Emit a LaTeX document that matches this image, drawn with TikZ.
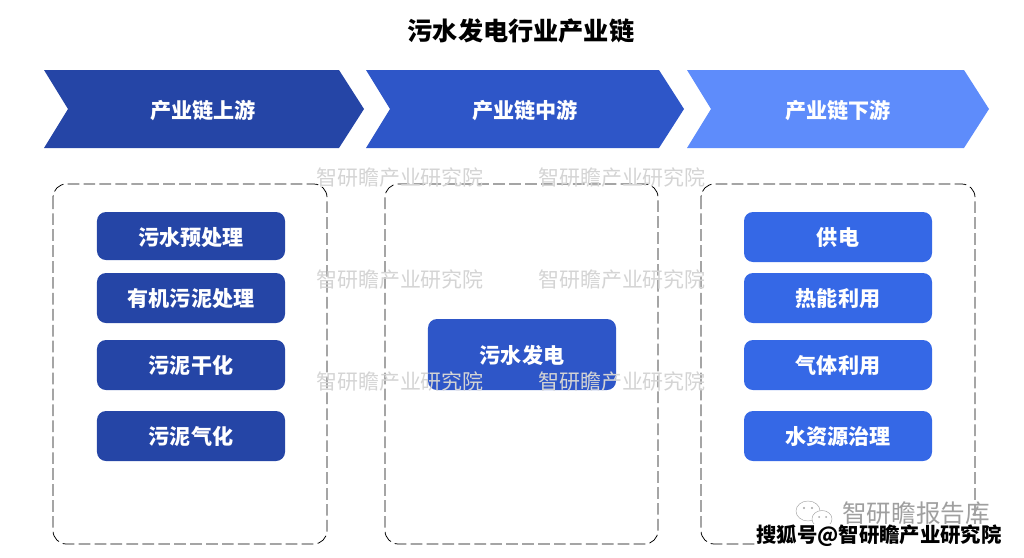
\documentclass[tikz,border=0pt]{standalone}
\usepackage{fontspec}
\setmainfont{Noto Sans CJK SC}
\definecolor{upblue}{HTML}{2545A6}
\definecolor{midblue}{HTML}{2E56C8}
\definecolor{downblue}{HTML}{5E8CFB}
\definecolor{rightblue}{HTML}{3568E6}
\definecolor{markgray}{HTML}{D4D4D4}
\tikzset{
  maintext/.style={font=\bfseries\fontsize{21.5}{21.5}\selectfont},
  head/.style={text=white,font=\bfseries\fontsize{18}{18}\selectfont},
  stepbox/.style={rounded corners=0.27cm,minimum width=5.64cm,minimum height=1.5cm,inner sep=0pt,
    text height=17pt,text depth=2pt,text=white,font=\bfseries\fontsize{18}{18}\selectfont},
  frame/.style={draw=black,line width=0.65pt,dash pattern=on 10pt off 3.6pt,rounded corners=0.4cm},
  watermark/.style={text=markgray,font=\fontsize{17.9}{17.9}\selectfont},
}
\begin{document}
\begin{tikzpicture}[x=0.03cm,y=-0.03cm]
\useasboundingbox (0,0) rectangle (1024,558);

\node[maintext] (maintitle) at (521,31) {污水发电行业产业链};

% chevrons
\foreach \x/\w/\c in {44/295/upblue,366/293/midblue,687/277/downblue}{
  \fill[\c] (\x,70) -- ++(\w,0) -- ++(25,39) -- ++(-25,39) -- ++(-\w,0) -- ++(24,-39) -- cycle;
}
\node[head] (uphead) at (203,111) {产业链上游};
\node[head] (midhead) at (525,111) {产业链中游};
\node[head] (downhead) at (838,111) {产业链下游};

% dashed frames
\draw[frame] (53,184) rectangle (327,544);
\draw[frame] (385,184) rectangle (658,544);
\draw[frame] (701,184) rectangle (975,544);

% upstream
\node[stepbox,fill=upblue,minimum height=1.44cm,text height=19pt] (pre) at (191,236) {污水预处理};
\node[stepbox,fill=upblue] (sludge) at (191,298) {有机污泥处理};
\node[stepbox,fill=upblue] (dry) at (191,365) {污泥干化};
\node[stepbox,fill=upblue] (gas) at (191,436) {污泥气化};

% midstream
\node[stepbox,fill=midblue,minimum height=2.13cm] (power) at (522,354.5) {污水发电};

% downstream
\node[stepbox,fill=rightblue] (supply) at (838,237) {供电};
\node[stepbox,fill=rightblue] (heat) at (838,298) {热能利用};
\node[stepbox,fill=rightblue] (biogas) at (838,365) {气体利用};
\node[stepbox,fill=rightblue] (water) at (838,436) {水资源治理};

% watermarks
\foreach \y/\n in {178/a,280/b,382/c}{
  \node[watermark] (mark1\n) at (400,\y) {智研瞻产业研究院};
  \node[watermark] (mark2\n) at (622,\y) {智研瞻产业研究院};
}

% footer
\draw[gray!70,fill=white,thin] (808,511) ellipse (12 and 10);
\draw[gray!70,fill=white,thin] (822,519) ellipse (10 and 8.5);
\fill[gray!70] (804,508) circle (1.2) (812,508) circle (1.2) (819,517) circle (1) (826,517) circle (1);
\node[text=gray!75,font=\fontsize{21}{21}\selectfont] (report) at (916,513) {智研瞻报告库};
\node[fill=white,inner sep=1pt,text=black,font=\bfseries\fontsize{17.4}{17.4}\selectfont] (source) at (879,536) {搜狐号@智研瞻产业研究院};

\end{tikzpicture}
\end{document}
